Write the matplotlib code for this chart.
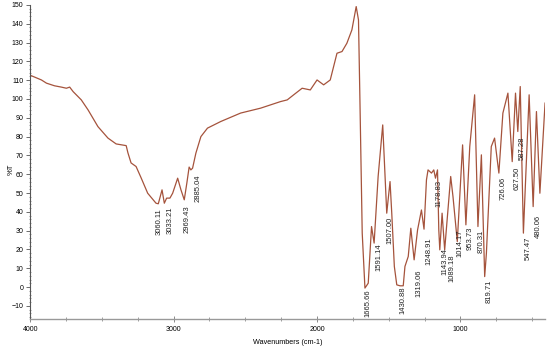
import numpy as np
import matplotlib
matplotlib.use("Agg")
import matplotlib.pyplot as plt
from matplotlib.ticker import MultipleLocator

plt.rcParams['font.family'] = ['Liberation Sans', 'DejaVu Sans']

# FTIR spectrum (wavenumber cm-1, %T)
wavenumber = [4000, 3991, 3922, 3887, 3831, 3783, 3748, 3725, 3701, 3644,
              3597, 3528, 3458, 3401, 3331, 3319, 3297, 3262, 3227, 3181,
              3123, 3107, 3081, 3065, 3049, 3026, 3007, 2972, 2949, 2926,
              2908, 2892, 2880, 2868, 2845, 2810, 2764, 2672, 2533, 2394,
              2255, 2208, 2163, 2104, 2047, 2000, 1954, 1908, 1861, 1826,
              1792, 1757, 1727, 1711, 1701, 1685, 1666, 1643, 1620, 1602,
              1574, 1542, 1514, 1491, 1479, 1461, 1444, 1421, 1399, 1387,
              1364, 1346, 1323, 1299, 1272, 1254, 1237, 1226, 1202, 1186,
              1174, 1160, 1151, 1144, 1128, 1110, 1068, 1052, 1022, 985,
              962, 935, 901, 878, 854, 831, 819, 785, 762, 732,
              704, 669, 639, 616, 600, 583, 561, 521, 493, 470,
              446, 410]
transmittance = [112.5, 112.3, 110.1, 108.4, 107.0, 106.3, 105.7, 106.3, 103.9, 99.5,
                 94.2, 85.3, 79.2, 76.1, 75.2, 71.4, 66.0, 64.1, 58.1, 49.9,
                 44.6, 44.3, 51.7, 44.6, 47.3, 47.3, 49.9, 57.9, 51.7, 46.4,
                 55.3, 63.8, 62.3, 63.2, 71.2, 80.0, 84.5, 88.0, 92.5, 95.1,
                 98.6, 99.5, 102.2, 105.7, 104.8, 110.1, 107.5, 110.1, 124.3, 125.2,
                 129.6, 136.7, 149.1, 142.0, 99.5, 28.7, -0.5, 2.1, 32.2, 23.4,
                 58.8, 86.2, 39.3, 56.1, 39.3, 11.0, 1.2, 0.7, 0.7, 11.0,
                 16.3, 31.3, 14.5, 30.4, 41.0, 30.8, 57.0, 62.3, 60.6, 62.3,
                 57.9, 62.3, 30.4, 19.8, 39.3, 19.8, 58.8, 48.1, 24.2, 75.6,
                 33.1, 74.7, 102.2, 32.2, 70.3, 5.6, 18.0, 74.7, 79.2, 60.6,
                 92.5, 103.1, 66.7, 103.1, 82.7, 106.6, 28.7, 102.2, 42.8, 93.3,
                 49.9, 97.8]

# labelled peaks
peak_labels = ['3060.11', '3033.21', '2969.43', '2885.04', '1665.66', '1591.14',
               '1507.00', '1430.88', '1319.06', '1248.91', '1178.83', '1143.94',
               '1089.18', '1014.17', '953.73', '870.31', '819.71', '726.06',
               '627.50', '587.28', '547.47', '480.06']

# where the software drew each label (x in cm-1, top of text in %T)
label_x = [3102, 3026, 2904, 2831, 1644, 1567, 1490, 1403, 1290, 1220, 1151,
           1109, 1062, 1005, 935, 854, 797, 700, 603, 568, 526, 456]
label_top = [42.1, 42.6, 43.7, 59.7, -1.4, 23.5, 37.4, 0.2, 9.2, 26.2, 57.0,
             20.9, 17.2, 30.4, 32.0, 30.4, 3.9, 58.6, 63.9, 79.9, 26.7, 38.4]

fig = plt.figure(figsize=(5.5, 3.48), dpi=100)
ax = fig.add_axes([0.055, 0.083, 0.936, 0.903])

ax.plot(wavenumber, transmittance, color='#a5533c', lw=0.9)

for lab, lx, ly in zip(peak_labels, label_x, label_top):
    ax.text(lx, ly, lab, rotation=90, ha='center', va='top',
            fontsize=5.5, color='#222222')

ax.set_xlim(4000, 410)
ax.set_ylim(-17, 150)
ax.xaxis.set_major_locator(MultipleLocator(1000))
ax.xaxis.set_minor_locator(MultipleLocator(250))
ax.yaxis.set_major_locator(MultipleLocator(10))
ax.yaxis.set_minor_locator(MultipleLocator(2))

for s in ['top', 'right']:
    ax.spines[s].set_visible(False)
ax.spines['left'].set_color('#555555')
ax.spines['left'].set_linewidth(0.8)
ax.spines['bottom'].set_color('#999999')
ax.spines['bottom'].set_linewidth(1.0)

ax.tick_params(axis='y', which='major', direction='out', length=3, width=0.6,
               labelsize=5, pad=2, color='#555555')
ax.tick_params(axis='y', which='minor', direction='inout', length=1.5, width=0.5,
               color='#777777')
ax.tick_params(axis='x', which='major', direction='inout', length=4, width=0.6,
               labelsize=5, pad=3, color='#777777')
ax.tick_params(axis='x', which='minor', direction='inout', length=3, width=0.5,
               color='#777777')

fig.text(11 / 550, 1 - 169 / 348, '%T', rotation=90, ha='center', va='center',
         fontsize=5.5)
ax.set_xlabel('Wavenumbers (cm-1)', fontsize=5.2, labelpad=4)

fig.savefig('out.png', dpi=100)
